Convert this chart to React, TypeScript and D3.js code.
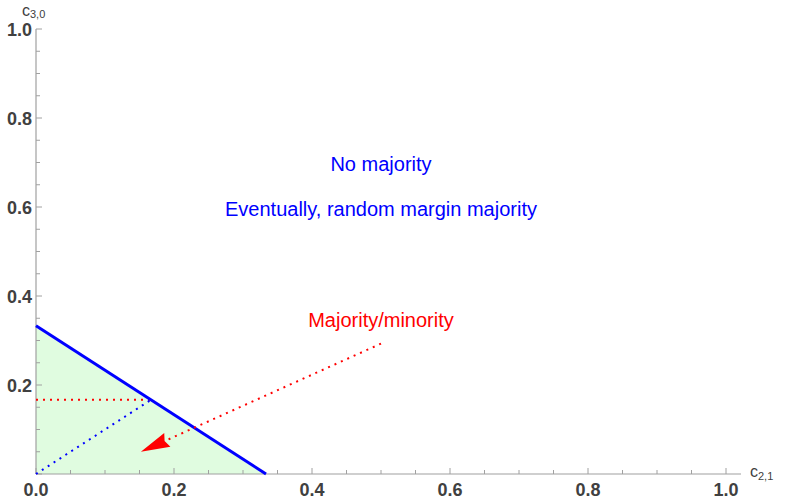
import React from 'react'
import * as d3 from 'd3'

const W = 785
const H = 503

const xTicks = [0, 0.2, 0.4, 0.6, 0.8, 1.0]
const yTicks = [0, 0.2, 0.4, 0.6, 0.8, 1.0]
const minorStep = 0.05

// region where the majority/minority regime holds
const regionPts: [number, number][] = [[0, 0], [0, 1 / 3], [1 / 3, 0]]
const boundaryPts: [number, number][] = [[0, 1 / 3], [1 / 3, 0]]
const redGuidePts: [number, number][] = [[0, 1 / 6], [1 / 6, 1 / 6]]
const blueGuidePts: [number, number][] = [[0, 0], [1 / 6, 1 / 6]]
const arrowPts: [number, number][] = [[0.5, 0.293], [0.152, 0.05]]

const labels = [
  { text: 'No majority', x: 0.5, y: 0.697, color: '#0000ff' },
  { text: 'Eventually, random margin majority', x: 0.5, y: 0.596, color: '#0000ff' },
  { text: 'Majority/minority', x: 0.5, y: 0.346, color: '#ff0000' }
]

const x = d3.scaleLinear().domain([0, 1]).range([36, 726])
const y = d3.scaleLinear().domain([0, 1]).range([474, 29])

const line = d3
  .line<[number, number]>()
  .x(d => x(d[0]))
  .y(d => y(d[1]))

const AXIS = '#a0a0a0'
const TXT = '#404040'

const App = () => {
  const minors = d3.range(0, 1.0001, minorStep)
  const [a0, a1] = arrowPts
  const px0 = x(a0[0]), py0 = y(a0[1])
  const tx = x(a1[0]), ty = y(a1[1])
  const ang = Math.atan2(ty - py0, tx - px0)
  // arrowhead shape in local coords (tip at origin, pointing +x)
  const head = [[0, 0], [-29, -7.5], [-26, 0], [-29, 7.5]]
  const headPath =
    'M' +
    head
      .map(([hx, hy]) => {
        const rx = tx + hx * Math.cos(ang) - hy * Math.sin(ang)
        const ry = ty + hx * Math.sin(ang) + hy * Math.cos(ang)
        return `${rx},${ry}`
      })
      .join('L') +
    'Z'
  const shaftEnd: [number, number] = [
    x.invert(tx - 27 * Math.cos(ang)),
    y.invert(ty - 27 * Math.sin(ang))
  ]

  return (
    <svg width={W} height={H} style={{ position: 'absolute', left: 0, top: 0 }}
      fontFamily="'Liberation Sans', Arial, sans-serif">
      <rect width={W} height={H} fill="#fff" />
      <path d={line(regionPts) + 'Z'} fill="#e0fce0" />

      {/* axes */}
      <line x1={x(0)} x2={741} y1={y(0)} y2={y(0)} stroke={AXIS} strokeWidth={1.2} />
      <line x1={x(0)} x2={x(0)} y1={y(0)} y2={y(1)} stroke={AXIS} strokeWidth={1.2} />
      {minors.map((v, i) => {
        const major = i % 4 === 0
        return (
          <g key={i}>
            <line x1={x(v)} x2={x(v)} y1={y(0)} y2={y(0) - (major ? 6 : 4)} stroke={AXIS} />
            <line y1={y(v)} y2={y(v)} x1={x(0)} x2={x(0) + (major ? 6 : 4)} stroke={AXIS} />
          </g>
        )
      })}
      {xTicks.map(v => (
        <text key={'x' + v} x={x(v)} y={496} textAnchor="middle" fontSize={18}
          fontWeight="bold" fill={TXT}>{v.toFixed(1)}</text>
      ))}
      {yTicks.filter(v => v > 0).map(v => (
        <text key={'y' + v} x={32} y={y(v) + 7} textAnchor="end" fontSize={18}
          fontWeight="bold" fill={TXT}>{v.toFixed(1)}</text>
      ))}
      <text x={22} y={16} fontSize={16} fill={TXT}>
        c<tspan fontSize={11} dy={2}>3,0</tspan>
      </text>
      <text x={750} y={477} fontSize={16} fill={TXT}>
        c<tspan fontSize={11} dy={3}>2,1</tspan>
      </text>

      {/* guides */}
      <path d={line(redGuidePts)!} stroke="#ff0000" strokeWidth={2} strokeDasharray="2,5" fill="none" />
      <path d={line(blueGuidePts)!} stroke="#0000ff" strokeWidth={2} strokeDasharray="2,5" fill="none" />
      <path d={line(boundaryPts)!} stroke="#0000ff" strokeWidth={3} fill="none" />
      <path d={line([a0, shaftEnd])!} stroke="#ff0000" strokeWidth={2} strokeDasharray="2,5" fill="none" />
      <path d={headPath} fill="#ff0000" />

      {labels.map(l => (
        <text key={l.text} x={x(l.x)} y={y(l.y) + 7} textAnchor="middle" fontSize={20}
          fill={l.color}>{l.text}</text>
      ))}
    </svg>
  )
}

export default App
